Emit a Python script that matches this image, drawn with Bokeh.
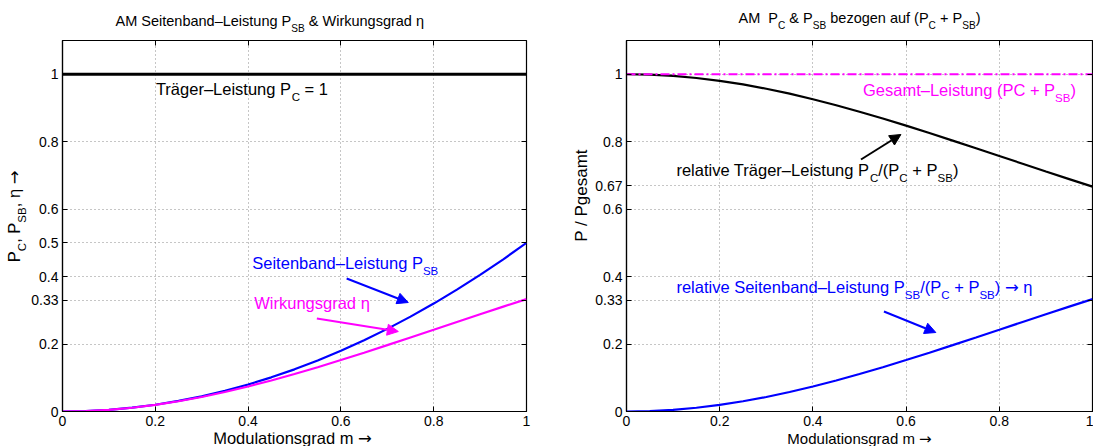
from bokeh.plotting import figure
from bokeh.models import Label, Arrow, NormalHead, LinearAxis, FixedTicker, Range1d
from bokeh.layouts import row, column
from bokeh.embed import file_html
from bokeh.resources import INLINE

# ---------------- data ----------------
m = [0.0, 0.05, 0.10, 0.15, 0.20, 0.25, 0.30, 0.35, 0.40, 0.45, 0.50,
     0.55, 0.60, 0.65, 0.70, 0.75, 0.80, 0.85, 0.90, 0.95, 1.0]
p_sb = [0.0, 0.0013, 0.005, 0.0113, 0.02, 0.0313, 0.045, 0.0613, 0.08, 0.1013, 0.125,
        0.1513, 0.18, 0.2113, 0.245, 0.2813, 0.32, 0.3613, 0.405, 0.4513, 0.5]
eta = [0.0, 0.0012, 0.005, 0.0111, 0.0196, 0.0303, 0.0431, 0.0577, 0.0741, 0.0919, 0.1111,
       0.1314, 0.1525, 0.1744, 0.1968, 0.2195, 0.2424, 0.2654, 0.2883, 0.3109, 0.3333]
rel_c = [1.0, 0.9988, 0.995, 0.9889, 0.9804, 0.9697, 0.9569, 0.9423, 0.9259, 0.9081, 0.8889,
         0.8686, 0.8475, 0.8256, 0.8032, 0.7805, 0.7576, 0.7346, 0.7117, 0.6891, 0.6667]
rel_sb = [0.0, 0.0012, 0.005, 0.0111, 0.0196, 0.0303, 0.0431, 0.0577, 0.0741, 0.0919, 0.1111,
          0.1314, 0.1525, 0.1744, 0.1968, 0.2195, 0.2424, 0.2654, 0.2883, 0.3109, 0.3333]
pc_m = [0.0, 1.0]
pc_val = [1.0, 1.0]
total_val = [1.0, 1.0]

x_ticks = [0, 0.2, 0.4, 0.6, 0.8, 1]
x_tick_labels = ["0", "0.2", "0.4", "0.6", "0.8", "1"]
left_y_ticks = [0, 0.2, 0.33, 0.4, 0.5, 0.6, 0.8, 1]
left_y_labels = ["0", "0.2", "0.33", "0.4", "0.5", "0.6", "0.8", "1"]
right_y_ticks = [0, 0.2, 0.33, 0.4, 0.6, 0.67, 0.8, 1]
right_y_labels = ["0", "0.2", "0.33", "0.4", "0.6", "0.67", "0.8", "1"]

BLUE = "#0000ff"
MAG = "#ff00ff"
FONT = "Liberation Sans"
AFONT = "DejaVu Sans"     # long arrow glyph

# Helvetica / Arial advance widths (1/1000 em)
W = {' ': 278, 'a': 556, 'b': 556, 'c': 500, 'd': 556, 'e': 556, 'f': 278, 'g': 556, 'h': 556,
     'i': 222, 'j': 222, 'k': 500, 'l': 222, 'm': 833, 'n': 556, 'o': 556, 'p': 556, 'q': 556,
     'r': 333, 's': 500, 't': 278, 'u': 556, 'v': 500, 'w': 722, 'x': 500, 'y': 500, 'z': 500,
     'A': 667, 'B': 667, 'C': 722, 'D': 722, 'E': 667, 'F': 611, 'G': 778, 'H': 722, 'I': 278,
     'L': 556, 'M': 833, 'N': 722, 'O': 778, 'P': 667, 'R': 722, 'S': 667, 'T': 611, 'W': 944,
     '.': 278, ',': 278, '(': 333, ')': 333, '/': 278, '+': 584, '=': 584, '&': 667,
     '\u2013': 556, '\u00e4': 556, '\u03b7': 556, '\u2192': 838, '0': 556, '1': 556}

BASE_FIX = 0.38   # renderer draws the alphabetic baseline this many em too low


def tw(s, size):
    return sum(W.get(c, 556) for c in s) / 1000.0 * size


def rich(p, parts, x, y, size, color, angle=0.0, anchor="left"):
    # parts: (text, kind) with kind "n" normal, "s" subscript, "a" arrow glyph
    widths = []
    for txt, kind in parts:
        fs = size * 0.7 if kind == "s" else size
        widths.append(tw(txt, fs))
    total = sum(widths)
    off = -total / 2 if anchor == "center" else 0.0
    for (txt, kind), w in zip(parts, widths):
        fs = size * 0.7 if kind == "s" else size
        lead = len(txt) - len(txt.lstrip(' '))
        o = off + tw(' ' * lead, fs)
        shift = (-0.38 * size if kind == "s" else 0.0) + BASE_FIX * fs
        if angle == 0.0:
            xo, yo = o, shift
        else:
            xo, yo = -shift, o
        p.add_layout(Label(x=x, y=y, text=txt.strip(' '), text_font=AFONT if kind == "a" else FONT,
                           text_font_size=f"{fs:.1f}px", text_color=color,
                           text_baseline="alphabetic", text_align="left",
                           angle=angle, x_offset=xo, y_offset=yo))
        off += w


def strip(width, height):
    s = figure(width=width, height=height, x_range=Range1d(0, width), y_range=Range1d(0, height),
               x_axis_type=None, y_axis_type=None, output_backend="svg", toolbar_location=None,
               min_border=0, min_border_left=0, min_border_right=0, min_border_top=0,
               min_border_bottom=0)
    s.outline_line_color = None
    s.grid.visible = False
    s.background_fill_color = "white"
    s.border_fill_color = "white"
    return s


# frame geometry (pixels)
TOP_H = 37          # title strip height
FR_T, FR_B = 40, 411
MAIN_H = 3 + (FR_B - FR_T) + 21
XL_H = 446 - TOP_H - MAIN_H


def make_fig(width, lb, rb, yticks, ylabels):
    p = figure(width=width, height=MAIN_H, x_range=Range1d(0, 1), y_range=Range1d(0, 1.1),
               output_backend="svg", toolbar_location=None,
               min_border_left=lb, min_border_right=rb, min_border_top=3, min_border_bottom=21)
    p.background_fill_color = "white"
    p.border_fill_color = "white"
    p.outline_line_color = "black"
    p.outline_line_width = 1.2
    p.outline_line_alpha = 1.0
    p.xaxis.ticker = FixedTicker(ticks=x_ticks)
    p.yaxis.ticker = FixedTicker(ticks=yticks)
    p.xaxis.major_label_overrides = {t: l for t, l in zip(x_ticks, x_tick_labels)}
    p.yaxis.major_label_overrides = {t: l for t, l in zip(yticks, ylabels)}
    for ax in (p.xaxis[0], p.yaxis[0]):
        ax.major_tick_in = 5
        ax.major_tick_out = 0
        ax.minor_tick_in = 0
        ax.minor_tick_out = 0
        ax.axis_line_color = "black"
        ax.axis_line_width = 1.2
        ax.major_tick_line_color = "black"
        ax.major_label_text_font = FONT
        ax.major_label_text_font_size = "14px"
        ax.major_label_text_color = "black"
    p.xaxis.major_label_standoff = 4
    p.yaxis.major_label_standoff = 4
    p.xgrid.grid_line_color = "#8c8c8c"
    p.ygrid.grid_line_color = "#8c8c8c"
    p.xgrid.grid_line_dash = "1 3"
    p.ygrid.grid_line_dash = "1 3"
    top = LinearAxis(ticker=FixedTicker(ticks=x_ticks), major_label_text_font_size="1px",
                     major_label_overrides={t: "" for t in x_ticks},
                     major_tick_in=5, major_tick_out=0, minor_tick_in=0, minor_tick_out=0,
                     axis_line_color=None, major_label_standoff=0)
    p.add_layout(top, "above")
    right = LinearAxis(ticker=FixedTicker(ticks=yticks), major_label_text_font_size="1px",
                       major_label_overrides={t: "" for t in yticks},
                       major_tick_in=5, major_tick_out=0, minor_tick_in=0, minor_tick_out=0,
                       axis_line_color=None, major_label_standoff=0)
    p.add_layout(right, "right")
    return p


L1, R1, L2, R2 = 59, 526, 625, 1092


def d1(px, py):
    return (px - L1) / (R1 - L1), (FR_B - py) / (FR_B - FR_T) * 1.1


def d2(px, py):
    return (px - L2) / (R2 - L2), (FR_B - py) / (FR_B - FR_T) * 1.1


# ---------------- left plot ----------------
YL1_W = 28
p1 = make_fig(546 - YL1_W, L1 - YL1_W, 546 - R1, left_y_ticks, left_y_labels)
p1.line(pc_m, pc_val, line_color="black", line_width=3)
p1.line(m, p_sb, line_color=BLUE, line_width=2.2)
p1.line(m, eta, line_color=MAG, line_width=2.2)

x, y = d1(153, 95)
rich(p1, [("Tr\u00e4ger\u2013Leistung P", "n"), ("C", "s"), (" = 1", "n")], x, y, 16.5, "black")
x, y = d1(250, 269)
rich(p1, [("Seitenband\u2013Leistung P", "n"), ("SB", "s")], x, y, 16.5, BLUE)
x, y = d1(252, 309)
rich(p1, [("Wirkungsgrad \u03b7", "n")], x, y, 16.5, MAG)

xs, ys = d1(345, 278)
xe, ye = d1(407, 302)
p1.add_layout(Arrow(end=NormalHead(size=11, fill_color=BLUE, line_color=BLUE),
                    x_start=xs, y_start=ys, x_end=xe, y_end=ye, line_color=BLUE, line_width=2))
xs, ys = d1(315, 318)
xe, ye = d1(397, 331)
p1.add_layout(Arrow(end=NormalHead(size=11, fill_color=MAG, line_color=MAG),
                    x_start=xs, y_start=ys, x_end=xe, y_end=ye, line_color=MAG, line_width=2))

t1 = strip(546, TOP_H)
rich(t1, [("AM Seitenband\u2013Leistung P", "n"), ("SB", "s"), (" & Wirkungsgrad \u03b7", "n")],
     115, TOP_H - 26, 14.5, "black")
yl1 = strip(YL1_W, MAIN_H)
rich(yl1, [("P", "n"), ("C", "s"), (", P", "n"), ("SB", "s"), (", \u03b7 ", "n"), ("\u2192", "a")],
     20, MAIN_H - (273 - TOP_H), 16.5, "black", angle=1.5707963)
xl1 = strip(546, XL_H)
rich(xl1, [("Modulationsgrad m ", "n"), ("\u2192", "a")], 292, 2, 16.5, "black", anchor="center")

# ---------------- right plot ----------------
YL2_W = 46
p2 = make_fig(547 - YL2_W, L2 - 546 - YL2_W, 1093 - R2, right_y_ticks, right_y_labels)
p2.line(m, rel_c, line_color="black", line_width=2.2)
p2.line(m, rel_sb, line_color=BLUE, line_width=2.2)
p2.line(pc_m, total_val, line_color=MAG, line_width=2, line_dash="9 3 2 3")

x, y = d2(862, 96)
rich(p2, [("Gesamt\u2013Leistung (PC + P", "n"), ("SB", "s"), (")", "n")], x, y, 16.5, MAG)
x, y = d2(675, 176)
rich(p2, [("relative Tr\u00e4ger\u2013Leistung P", "n"), ("C", "s"), ("/(P", "n"), ("C", "s"),
          (" + P", "n"), ("SB", "s"), (")", "n")], x, y, 16.5, "black")
x, y = d2(675, 293)
rich(p2, [("relative Seitenband\u2013Leistung P", "n"), ("SB", "s"), ("/(P", "n"), ("C", "s"),
          (" + P", "n"), ("SB", "s"), (") ", "n"), ("\u2192", "a"), (" \u03b7", "n")], x, y, 16.5, BLUE)

xs, ys = d2(860, 159)
xe, ye = d2(900, 134)
p2.add_layout(Arrow(end=NormalHead(size=11, fill_color="black", line_color="black"),
                    x_start=xs, y_start=ys, x_end=xe, y_end=ye, line_color="black", line_width=2))
xs, ys = d2(883, 311)
xe, ye = d2(935, 332)
p2.add_layout(Arrow(end=NormalHead(size=11, fill_color=BLUE, line_color=BLUE),
                    x_start=xs, y_start=ys, x_end=xe, y_end=ye, line_color=BLUE, line_width=2))

t2 = strip(547, TOP_H)
rich(t2, [("AM ", "n"), (" P", "n"), ("C", "s"), (" & P", "n"), ("SB", "s"), (" bezogen auf (P", "n"),
          ("C", "s"), (" + P", "n"), ("SB", "s"), (")", "n")],
     859 - 546, TOP_H - 23, 14.5, "black", anchor="center")
yl2 = strip(YL2_W, MAIN_H)
YL2_SIZE = 17
rich(yl2, [("P / Pgesamt", "n")], 587 - 546,
     MAIN_H - (205 - TOP_H) - tw("P / Pgesamt", YL2_SIZE) / 2, YL2_SIZE, "black",
     angle=1.5707963)
xl2 = strip(547, XL_H)
rich(xl2, [("Modulationsgrad m ", "n"), ("\u2192", "a")], 859 - 546, 2, 15, "black", anchor="center")

left = column(t1, row(yl1, p1), xl1)
right_col = column(t2, row(yl2, p2), xl2)
layout = row(left, right_col)
open("out.html", "w").write(file_html(layout, INLINE))
